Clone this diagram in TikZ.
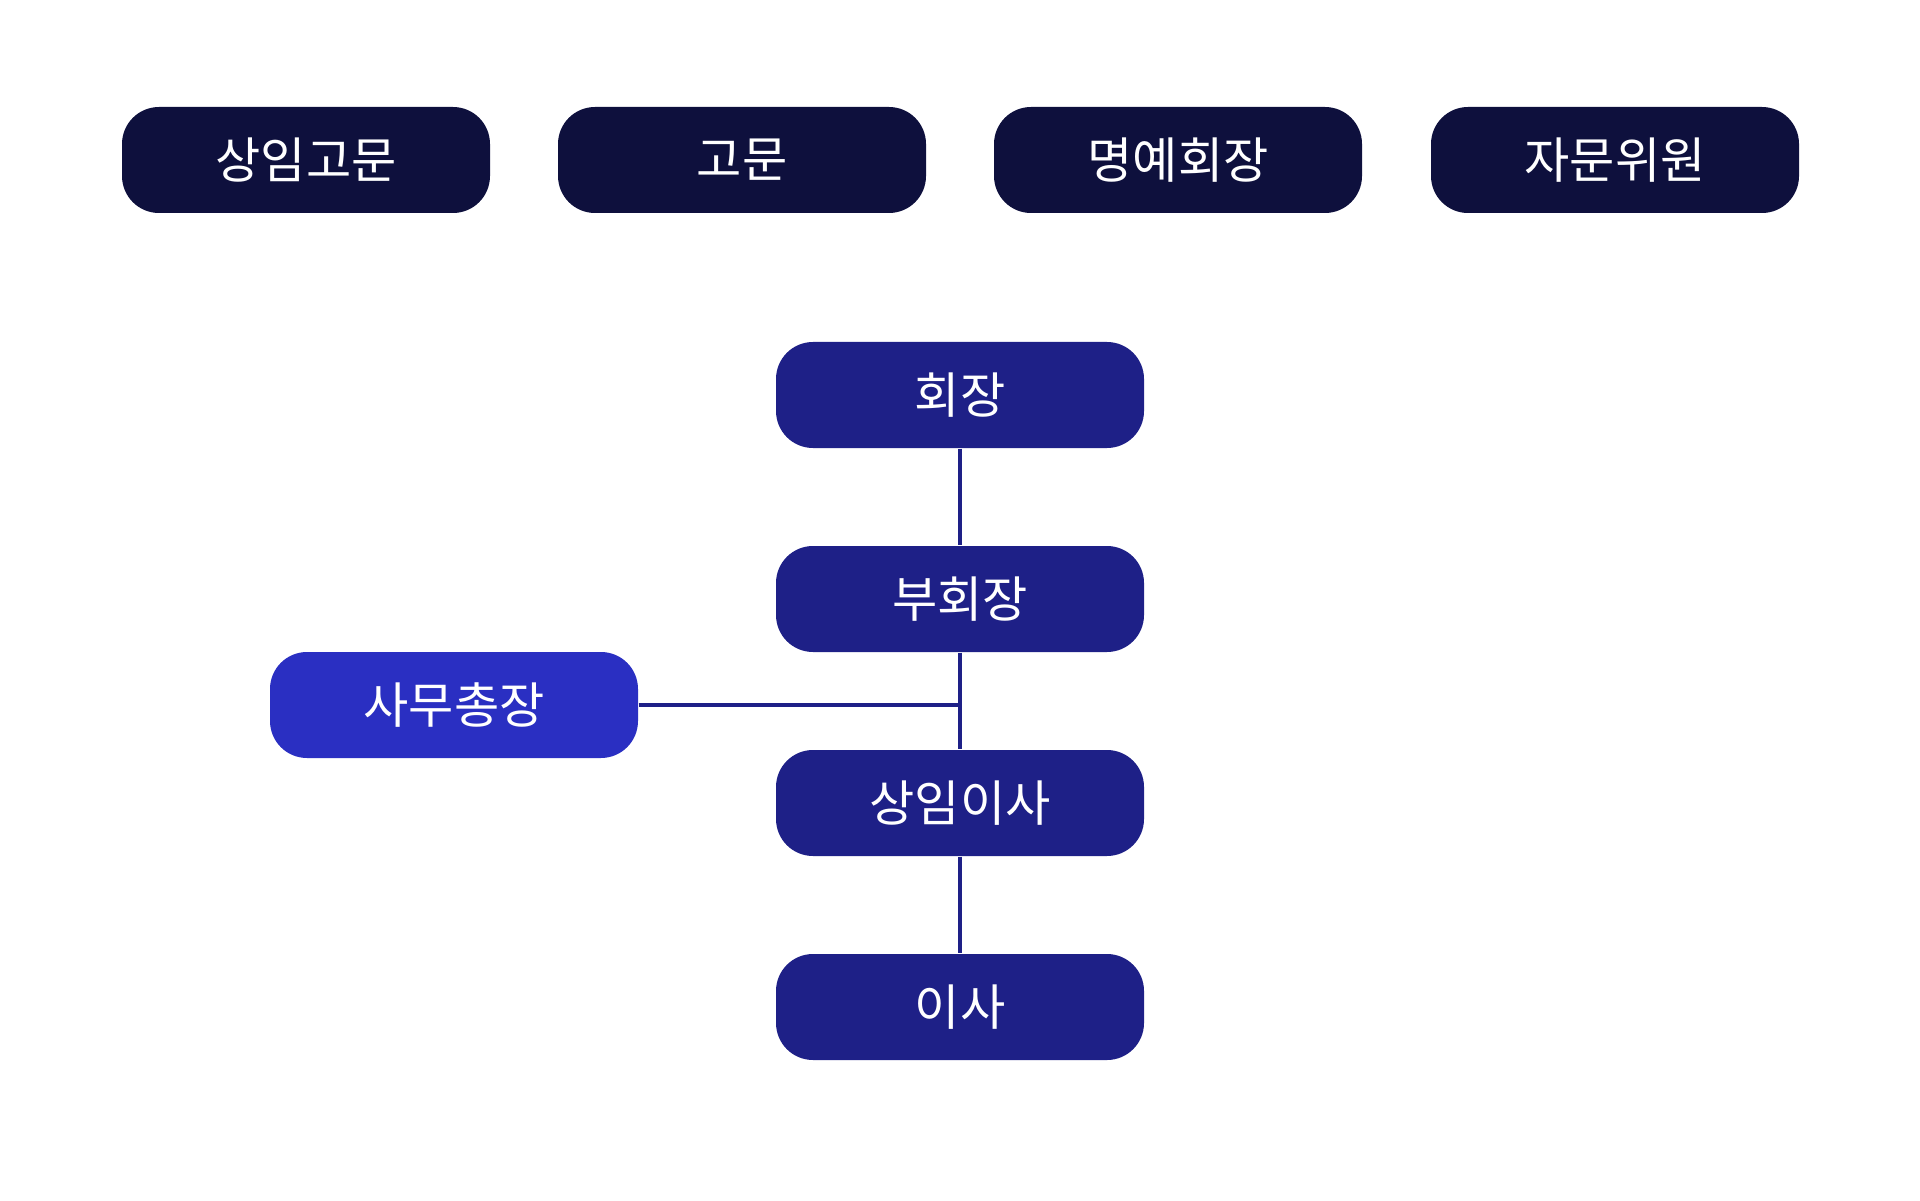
\documentclass[tikz,border=0pt]{standalone}
\usepackage{fontspec}
\setmainfont{Noto Sans CJK KR}
\usetikzlibrary{calc}
\definecolor{navyTop}{HTML}{0E103D}
\definecolor{navyMid}{HTML}{1E2087}
\definecolor{blueSide}{HTML}{2A2FC2}
\tikzset{
  rolebox/.style={rectangle,rounded corners=0.37cm,minimum width=3.68cm,minimum height=1.06cm,
    inner sep=0pt,text=white,font=\fontsize{14}{16}\selectfont},
  advisor/.style={rolebox,fill=navyTop},
  officer/.style={rolebox,fill=navyMid},
  secretary/.style={rolebox,fill=blueSide},
  link/.style={draw=navyMid,line width=1pt}
}
\begin{document}
\begin{tikzpicture}
      \useasboundingbox (0,0) rectangle (19.2,12);
      % advisory row
      \node[advisor] (sangimgomun) at (3.06,10.40) {상임고문};
      \node[advisor] (gomun) at (7.42,10.40) {고문};
      \node[advisor] (myeongye) at (11.78,10.40) {명예회장};
      \node[advisor] (jamun) at (16.15,10.40) {자문위원};
      % main line
      \node[officer] (hoejang) at (9.60,8.05) {회장};
      \node[officer] (buhoejang) at (9.60,6.01) {부회장};
      \node[officer] (sangimisa) at (9.60,3.97) {상임이사};
      \node[officer] (isa) at (9.60,1.93) {이사};
      \node[secretary] (samu) at (4.54,4.95) {사무총장};
      \draw[link] (hoejang) -- (buhoejang);
      \draw[link] (buhoejang) -- (sangimisa);
      \draw[link] (sangimisa) -- (isa);
      \coordinate (joint) at (samu.east -| buhoejang.south);
      \draw[link] (samu.east) -- (joint);
    \end{tikzpicture}
\end{document}
